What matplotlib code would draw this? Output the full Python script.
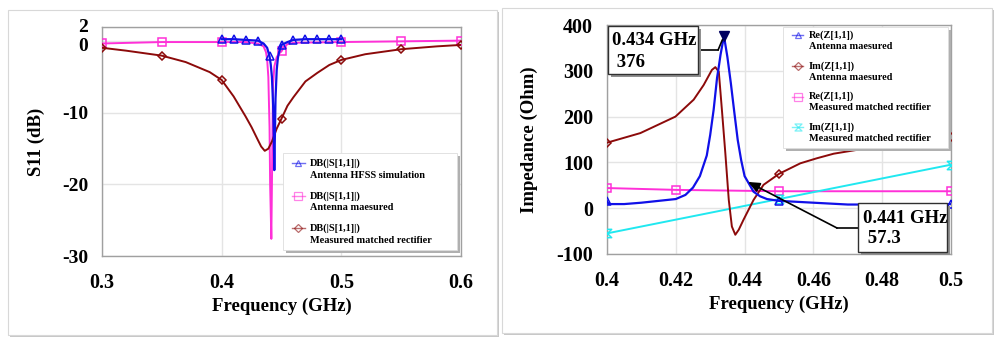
import numpy as np
import matplotlib.pyplot as plt
from matplotlib.patches import Rectangle
from matplotlib.path import Path
from matplotlib.transforms import ScaledTranslation

plt.rcParams['font.family'] = ['Liberation Serif', 'DejaVu Serif']
plt.rcParams['font.weight'] = 'bold'
plt.rcParams['axes.unicode_minus'] = False

# ---- S11 (left panel) ----
hfss_f = [0.40, 0.41, 0.42, 0.43, 0.435, 0.438, 0.44, 0.441, 0.442, 0.443, 0.4435,
          0.444, 0.4445, 0.445, 0.446, 0.447, 0.448, 0.45, 0.455, 0.46, 0.47, 0.48, 0.49, 0.50]
hfss_db = [0.3, 0.3, 0.2, 0.1, -0.3, -0.9, -2.1, -3.2, -5.0, -9.0, -13.0,
           -18.0, -13.0, -8.0, -4.0, -2.3, -1.5, -0.5, -0.1, 0.2, 0.3, 0.3, 0.3, 0.3]
hfss_marks = [0.40, 0.41, 0.42, 0.43, 0.44, 0.45, 0.46, 0.47, 0.48, 0.49, 0.50]

ant_f = [0.30, 0.35, 0.40, 0.42, 0.43, 0.435, 0.437, 0.438, 0.439, 0.440, 0.4405, 0.4415,
         0.442, 0.4425, 0.443, 0.444, 0.446, 0.448, 0.45, 0.452, 0.455, 0.46, 0.50, 0.55, 0.60]
ant_db = [-0.3, -0.1, -0.1, -0.1, -0.3, -0.7, -1.5, -2.5, -5.0, -12.0, -20.0, -27.6,
          -20.0, -12.0, -6.0, -3.5, -2.2, -1.7, -1.4, -0.8, -0.4, -0.2, -0.1, 0.0, 0.1]
ant_marks = [0.30, 0.35, 0.40, 0.45, 0.50, 0.55, 0.60]

rect_f = [0.30, 0.32, 0.35, 0.37, 0.39, 0.40, 0.41, 0.42, 0.425, 0.43, 0.433, 0.436,
          0.439, 0.442, 0.446, 0.45, 0.455, 0.46, 0.465, 0.47, 0.48, 0.49, 0.50, 0.52,
          0.55, 0.58, 0.60]
rect_db = [-0.9, -1.3, -2.0, -2.9, -4.3, -5.4, -7.7, -10.5, -12.0, -13.7, -14.7, -15.3,
           -15.0, -14.0, -12.2, -10.8, -9.0, -7.8, -6.7, -5.6, -4.4, -3.3, -2.6, -1.8,
           -1.1, -0.7, -0.5]
rect_marks = [0.30, 0.35, 0.40, 0.45, 0.50, 0.55, 0.60]

# ---- Impedance (right panel) ----
re_f = [0.400, 0.4005, 0.405, 0.41, 0.415, 0.42, 0.4228, 0.425, 0.427, 0.429, 0.430,
        0.431, 0.432, 0.4325, 0.433, 0.434, 0.435, 0.436, 0.437, 0.438, 0.439, 0.440,
        0.441, 0.4426, 0.4445, 0.4465, 0.45, 0.46, 0.47, 0.48, 0.49, 0.50]
re_ant = [15, 9, 9, 12, 16, 20, 29, 45, 70, 115, 160, 215, 285, 309, 335, 376, 330,
          273, 210, 149, 105, 70, 57, 36, 26, 20, 16, 12, 8, 8, 8, 9]
re_marks = [0.40, 0.45, 0.50]

im_f = [0.400, 0.4097, 0.4199, 0.4252, 0.4281, 0.4305, 0.4315, 0.4325, 0.4334, 0.4344,
        0.4354, 0.4363, 0.4373, 0.4383, 0.4397, 0.4426, 0.4455, 0.45, 0.4562, 0.461,
        0.4659, 0.4756, 0.4853, 0.50]
im_ant = [143, 164, 200, 237, 269, 302, 308, 298, 215, 120, 18, -40, -58, -47, -25,
          18, 51, 75, 98, 109, 119, 131, 140, 156]
im_marks = [0.40, 0.45, 0.50]

rer_f = [0.40, 0.42, 0.45, 0.50]
re_rect = [44, 40, 37, 37]
imr_f = [0.40, 0.45, 0.50]
im_rect = [-55, 20, 95]

BLUE = '#1010e8'
MAG = '#ff30d8'
BROWN = '#8c0a0a'
CYAN = '#20e8f0'

hourglass = Path([(-1, 1), (1, 1), (-1, -1), (1, -1), (-1, 1)],
                 [Path.MOVETO, Path.LINETO, Path.LINETO, Path.LINETO, Path.CLOSEPOLY])


def mark_idx(f, marks):
    f = np.asarray(f)
    return [int(np.argmin(np.abs(f - m))) for m in marks]


fig = plt.figure(figsize=(10, 3.43), dpi=100)

# panel cards
for x0, y0, w, h in [(0.008, 0.023, 0.489, 0.948), (0.502, 0.029, 0.490, 0.948)]:
    fig.add_artist(Rectangle((x0 + 0.002, y0 - 0.006), w, h, transform=fig.transFigure,
                             fc='#c8c8c8', ec='none', zorder=-2))
    fig.add_artist(Rectangle((x0, y0), w, h, transform=fig.transFigure,
                             fc='white', ec='#d8d8d8', lw=0.8, zorder=-1))

ax1 = fig.add_axes([0.102, 0.2536, 0.359, 0.6676])
ax2 = fig.add_axes([0.607, 0.2595, 0.344, 0.6676])

# left panel curves
ax1.plot(ant_f, ant_db, color=MAG, lw=1.4, marker='s', ms=6, mfc='none', mew=1.1,
         markevery=mark_idx(ant_f, ant_marks), zorder=3)
ax1.plot(rect_f, rect_db, color=BROWN, lw=1.4, marker='D', ms=4.5, mfc='none', mew=1.1,
         markevery=mark_idx(rect_f, rect_marks), zorder=3)
ax1.plot(hfss_f, hfss_db, color=BLUE, lw=1.6, marker='^', ms=6, mfc='none', mew=1.1,
         markevery=mark_idx(hfss_f, hfss_marks), zorder=4)

ax1.set_xlim(0.3, 0.6)
ax1.set_ylim(-30, 2)
ax1.set_xticks([0.3, 0.4, 0.5, 0.6])
ax1.set_xticklabels(['0.3', '0.4', '0.5', '0.6'])
ax1.set_yticks([-30, -20, -10, 0, 2])
ax1.set_xlabel('Frequency (GHz)', fontsize=13.5, fontweight='bold')
ax1.set_ylabel('S11 (dB)', fontsize=13.5, fontweight='bold')
ax1.xaxis.set_label_coords(0.5, -0.18)
ax1.yaxis.set_label_coords(-0.16, 0.5)

# right panel curves
ax2.plot(rer_f, re_rect, color=MAG, lw=1.4, marker='s', ms=6, mfc='none', mew=1.1, zorder=3)
ax2.plot(imr_f, im_rect, color=CYAN, lw=1.4, marker=hourglass, ms=6, mfc='none', mew=1.1,
         zorder=3)
ax2.plot(im_f, im_ant, color=BROWN, lw=1.4, marker='D', ms=4.5, mfc='none', mew=1.1,
         markevery=mark_idx(im_f, im_marks), zorder=3)
ax2.plot(re_f, re_ant, color=BLUE, lw=1.6, marker='^', ms=6, mfc='none', mew=1.1,
         markevery=mark_idx(re_f, re_marks), zorder=4)

ax2.set_xlim(0.4, 0.5)
ax2.set_ylim(-100, 400)
ax2.set_xticks([0.4, 0.42, 0.44, 0.46, 0.48, 0.5])
ax2.set_xticklabels(['0.4', '0.42', '0.44', '0.46', '0.48', '0.5'])
ax2.set_yticks([-100, 0, 100, 200, 300, 400])
ax2.set_xlabel('Frequency (GHz)', fontsize=13.5, fontweight='bold')
ax2.set_ylabel('Impedance (Ohm)', fontsize=13.5, fontweight='bold')
ax2.xaxis.set_label_coords(0.5, -0.18)
ax2.yaxis.set_label_coords(-0.20, 0.5)

for ax in (ax1, ax2):
    ax.grid(True, color='#e4e4e4', lw=1)
    ax.set_axisbelow(True)
    ax.tick_params(length=0, labelsize=14.5, pad=12)
    ax.tick_params(axis='y', pad=10)
    for s in ax.spines.values():
        s.set_color('#a0a0a0')
        s.set_linewidth(1)

# keep "2" and "0" on the S11 axis apart, as in the original
ax1.tick_params(axis='y', labelsize=14)
yt = ax1.yaxis.get_major_ticks()
for idx, dy in [(3, -3), (4, 2)]:
    lbl = yt[idx].label1
    lbl.set_transform(lbl.get_transform() + ScaledTranslation(0, dy / 100, fig.dpi_scale_trans))


def draw_legend(ax, box, entries, hx, tx):
    x0, y0, x1, y1 = box
    ax.add_patch(Rectangle((x0 + 0.008, y0 - 0.012), x1 - x0, y1 - y0, transform=ax.transAxes,
                           fc='#b0b0b0', ec='none', zorder=6, clip_on=False))
    ax.add_patch(Rectangle((x0, y0), x1 - x0, y1 - y0, transform=ax.transAxes,
                           fc='white', ec='#dddddd', lw=0.6, zorder=7, clip_on=False))
    for color, marker, ms, l1, l2, ya, yb in entries:
        ax.plot(hx, [ya, ya], transform=ax.transAxes, color=color, lw=1, alpha=0.6,
                zorder=8, clip_on=False)
        ax.plot([sum(hx) / 2], [ya], transform=ax.transAxes, color=color, marker=marker,
                ms=ms, mfc='none', mew=0.9, alpha=0.6, zorder=8, clip_on=False)
        ax.text(tx, ya, l1, transform=ax.transAxes, fontsize=7.4, va='center', zorder=9)
        ax.text(tx, yb, l2, transform=ax.transAxes, fontsize=7.4, va='center', zorder=9)


draw_legend(ax1, (0.504, 0.026, 0.989, 0.45), [
    (BLUE, '^', 5, 'DB(|S[1,1]|)', 'Antenna HFSS simulation', 0.406, 0.351),
    (MAG, 's', 6, 'DB(|S[1,1]|)', 'Antenna maesured', 0.263, 0.210),
    (BROWN, 'D', 4, 'DB(|S[1,1]|)', 'Measured matched rectifier', 0.122, 0.067),
], [0.529, 0.565], 0.579)

draw_legend(ax2, (0.512, 0.463, 0.991, 0.991), [
    (BLUE, '^', 5, 'Re(Z[1,1])', 'Antenna maesured', 0.956, 0.905),
    (BROWN, 'D', 4, 'Im(Z[1,1])', 'Antenna maesured', 0.822, 0.772),
    (MAG, 's', 6, 'Re(Z[1,1])', 'Measured matched rectifier', 0.687, 0.638),
    (CYAN, hourglass, 5, 'Im(Z[1,1])', 'Measured matched rectifier', 0.553, 0.503),
], [0.538, 0.570], 0.587)


def marker_box(ax, box, l1, l2, tx, ya, yb):
    x0, y0, x1, y1 = box
    ax.add_patch(Rectangle((x0 + 0.009, y0 - 0.013), x1 - x0, y1 - y0, transform=ax.transAxes,
                           fc='#909090', ec='none', zorder=10, clip_on=False))
    ax.add_patch(Rectangle((x0, y0), x1 - x0, y1 - y0, transform=ax.transAxes,
                           fc='white', ec='#303030', lw=1, zorder=11, clip_on=False))
    ax.text(tx, ya, l1, transform=ax.transAxes, fontsize=13.5, va='center', zorder=12)
    ax.text(tx, yb, l2, transform=ax.transAxes, fontsize=13.5, va='center', zorder=12)


# peak marker 0.434 GHz
peak_f, peak_z = 0.434, 376
ax2.plot([peak_f], [peak_z], marker='v', color='#000060', ms=7, zorder=9)
ax2.plot([0.265, 0.323], [0.891, 0.891], transform=ax2.transAxes, color='black', lw=1.2,
         zorder=9, clip_on=False)
ax2.annotate('', xy=(peak_f, peak_z), xycoords='data', xytext=(0.323, 0.891),
             textcoords='axes fraction',
             arrowprops=dict(arrowstyle='-', color='black', lw=1.2, shrinkA=0, shrinkB=3),
             zorder=9)
marker_box(ax2, (0.003, 0.786, 0.265, 0.996), '0.434 GHz', ' 376', 0.015, 0.934, 0.838)

# marker 0.441 GHz
m_f, m_z = 0.441, 57.3
ax2.plot([0.730, 0.6686], [0.1135, 0.1135], transform=ax2.transAxes, color='black',
         lw=1.2, zorder=9, clip_on=False)
ax2.annotate('', xy=(m_f, m_z), xycoords='data', xytext=(0.6686, 0.1135),
             textcoords='axes fraction',
             arrowprops=dict(arrowstyle='-|>,head_length=0.7,head_width=0.3', color='black',
                             lw=1.2, shrinkA=0, shrinkB=0),
             zorder=9)
marker_box(ax2, (0.730, 0.009, 0.988, 0.223), '0.441 GHz', ' 57.3', 0.744, 0.157, 0.066)

fig.savefig('out.png', dpi=100)
